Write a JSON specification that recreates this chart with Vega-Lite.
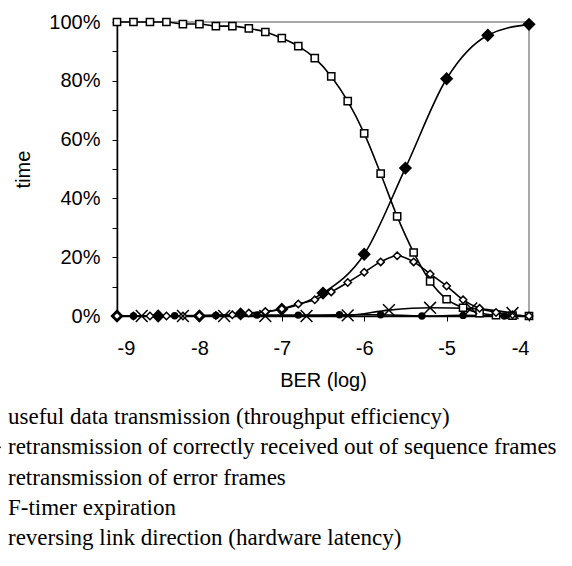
{
  "$schema": "https://vega.github.io/schema/vega-lite/v6.json",
  "width": 412,
  "height": 294,
  "autosize": {"type": "none"},
  "padding": {"left": 117, "top": 22, "right": 43, "bottom": 250},
  "background": "white",
  "config": {
    "view": {"stroke": "#8c8c8c", "strokeWidth": 1.5},
    "axis": {"labelFont": "Liberation Sans", "titleFont": "Liberation Sans", "labelColor": "black", "titleColor": "black", "titleFontWeight": "normal", "domainColor": "black", "tickColor": "black", "grid": false},
    "legend": {"orient": "none", "legendX": -133, "legendY": 383.5, "direction": "vertical", "title": null, "labelFont": "Liberation Serif", "labelFontSize": 23, "labelColor": "black", "rowPadding": 6.3, "labelOffset": 1, "labelLimit": 0, "symbolStrokeColor": "black", "symbolStrokeWidth": 1.5}
  },
  "data": {"values": [
    {"series": "useful data transmission (throughput efficiency)", "x": -9, "y": 100},
    {"series": "useful data transmission (throughput efficiency)", "x": -8.8, "y": 100},
    {"series": "useful data transmission (throughput efficiency)", "x": -8.6, "y": 100},
    {"series": "useful data transmission (throughput efficiency)", "x": -8.4, "y": 100},
    {"series": "useful data transmission (throughput efficiency)", "x": -8.2, "y": 99.3},
    {"series": "useful data transmission (throughput efficiency)", "x": -8.0, "y": 99.3},
    {"series": "useful data transmission (throughput efficiency)", "x": -7.8, "y": 98.6},
    {"series": "useful data transmission (throughput efficiency)", "x": -7.6, "y": 98.6},
    {"series": "useful data transmission (throughput efficiency)", "x": -7.4, "y": 97.8},
    {"series": "useful data transmission (throughput efficiency)", "x": -7.2, "y": 96.6},
    {"series": "useful data transmission (throughput efficiency)", "x": -7.0, "y": 94.5},
    {"series": "useful data transmission (throughput efficiency)", "x": -6.8, "y": 91.8},
    {"series": "useful data transmission (throughput efficiency)", "x": -6.6, "y": 87.7},
    {"series": "useful data transmission (throughput efficiency)", "x": -6.4, "y": 81.5},
    {"series": "useful data transmission (throughput efficiency)", "x": -6.2, "y": 73.1},
    {"series": "useful data transmission (throughput efficiency)", "x": -6.0, "y": 62.1},
    {"series": "useful data transmission (throughput efficiency)", "x": -5.8, "y": 48.4},
    {"series": "useful data transmission (throughput efficiency)", "x": -5.6, "y": 33.9},
    {"series": "useful data transmission (throughput efficiency)", "x": -5.4, "y": 21.6},
    {"series": "useful data transmission (throughput efficiency)", "x": -5.2, "y": 11.8},
    {"series": "useful data transmission (throughput efficiency)", "x": -5.0, "y": 5.7},
    {"series": "useful data transmission (throughput efficiency)", "x": -4.8, "y": 2.8},
    {"series": "useful data transmission (throughput efficiency)", "x": -4.6, "y": 1.0},
    {"series": "useful data transmission (throughput efficiency)", "x": -4.4, "y": 0.3},
    {"series": "useful data transmission (throughput efficiency)", "x": -4.2, "y": 0.1},
    {"series": "useful data transmission (throughput efficiency)", "x": -4.0, "y": 0},
    {"series": "retransmission of correctly received out of sequence frames", "x": -9, "y": 0},
    {"series": "retransmission of correctly received out of sequence frames", "x": -8.5, "y": 0},
    {"series": "retransmission of correctly received out of sequence frames", "x": -8, "y": 0},
    {"series": "retransmission of correctly received out of sequence frames", "x": -7.5, "y": 0.7},
    {"series": "retransmission of correctly received out of sequence frames", "x": -7, "y": 2.3},
    {"series": "retransmission of correctly received out of sequence frames", "x": -6.5, "y": 7.8},
    {"series": "retransmission of correctly received out of sequence frames", "x": -6, "y": 21},
    {"series": "retransmission of correctly received out of sequence frames", "x": -5.5, "y": 50.3},
    {"series": "retransmission of correctly received out of sequence frames", "x": -5, "y": 80.7},
    {"series": "retransmission of correctly received out of sequence frames", "x": -4.5, "y": 95.5},
    {"series": "retransmission of correctly received out of sequence frames", "x": -4, "y": 99.2},
    {"series": "retransmission of error frames", "x": -9, "y": 0},
    {"series": "retransmission of error frames", "x": -8.8, "y": 0},
    {"series": "retransmission of error frames", "x": -8.6, "y": 0},
    {"series": "retransmission of error frames", "x": -8.4, "y": 0},
    {"series": "retransmission of error frames", "x": -8.2, "y": 0},
    {"series": "retransmission of error frames", "x": -8.0, "y": 0.1},
    {"series": "retransmission of error frames", "x": -7.8, "y": 0.2},
    {"series": "retransmission of error frames", "x": -7.6, "y": 0.4},
    {"series": "retransmission of error frames", "x": -7.4, "y": 1.0},
    {"series": "retransmission of error frames", "x": -7.2, "y": 1.5},
    {"series": "retransmission of error frames", "x": -7.0, "y": 2.4},
    {"series": "retransmission of error frames", "x": -6.8, "y": 4.1},
    {"series": "retransmission of error frames", "x": -6.6, "y": 5.5},
    {"series": "retransmission of error frames", "x": -6.4, "y": 8.2},
    {"series": "retransmission of error frames", "x": -6.2, "y": 11.4},
    {"series": "retransmission of error frames", "x": -6.0, "y": 14.9},
    {"series": "retransmission of error frames", "x": -5.8, "y": 18.4},
    {"series": "retransmission of error frames", "x": -5.6, "y": 20.5},
    {"series": "retransmission of error frames", "x": -5.4, "y": 18.4},
    {"series": "retransmission of error frames", "x": -5.2, "y": 14.3},
    {"series": "retransmission of error frames", "x": -5.0, "y": 10.2},
    {"series": "retransmission of error frames", "x": -4.8, "y": 5.5},
    {"series": "retransmission of error frames", "x": -4.6, "y": 2.6},
    {"series": "retransmission of error frames", "x": -4.4, "y": 1.2},
    {"series": "retransmission of error frames", "x": -4.2, "y": 0.4},
    {"series": "retransmission of error frames", "x": -4.0, "y": 0},
    {"series": "F-timer expiration", "x": -8.7, "y": 0},
    {"series": "F-timer expiration", "x": -8.2, "y": 0},
    {"series": "F-timer expiration", "x": -7.7, "y": 0},
    {"series": "F-timer expiration", "x": -7.2, "y": 0},
    {"series": "F-timer expiration", "x": -6.7, "y": 0},
    {"series": "F-timer expiration", "x": -6.2, "y": 0.2},
    {"series": "F-timer expiration", "x": -5.7, "y": 2.0},
    {"series": "F-timer expiration", "x": -5.2, "y": 2.8},
    {"series": "F-timer expiration", "x": -4.7, "y": 2.6},
    {"series": "F-timer expiration", "x": -4.2, "y": 1.0},
    {"series": "reversing link direction (hardware latency)", "x": -8.8, "y": 0},
    {"series": "reversing link direction (hardware latency)", "x": -8.3, "y": 0.1},
    {"series": "reversing link direction (hardware latency)", "x": -7.8, "y": 0.2},
    {"series": "reversing link direction (hardware latency)", "x": -7.3, "y": 0.3},
    {"series": "reversing link direction (hardware latency)", "x": -6.8, "y": 0.3},
    {"series": "reversing link direction (hardware latency)", "x": -6.3, "y": 0.4},
    {"series": "reversing link direction (hardware latency)", "x": -5.8, "y": 0.4},
    {"series": "reversing link direction (hardware latency)", "x": -5.3, "y": 0},
    {"series": "reversing link direction (hardware latency)", "x": -4.8, "y": 0.2},
    {"series": "reversing link direction (hardware latency)", "x": -4.3, "y": 0}
  ]},
  "encoding": {
    "x": {"field": "x", "type": "quantitative", "scale": {"domain": [-9, -4], "nice": false, "zero": false},
      "axis": {"title": "BER (log)", "values": [-9, -8, -7, -6, -5, -4], "labelExpr": "'' + datum.value", "labelFontSize": 20, "titleFontSize": 20, "tickSize": 5, "labelPadding": 17, "titlePadding": 12, "domainWidth": 1.5}},
    "y": {"field": "y", "type": "quantitative", "scale": {"domain": [0, 100], "nice": false},
      "axis": {"title": "time", "values": [0, 10, 20, 30, 40, 50, 60, 70, 80, 90, 100], "labelExpr": "datum.value % 20 == 0 ? datum.value + '%' : ''", "labelFontSize": 20, "titleFontSize": 20, "tickSize": 5, "labelPadding": 12, "titlePadding": 15, "domainWidth": 1.5}}
  },
  "layer": [
    {
      "mark": {"type": "line", "interpolate": "monotone", "stroke": "black", "strokeWidth": 1.6},
      "encoding": {"detail": {"field": "series", "type": "nominal"}}
    },
    {
      "mark": {"type": "point", "filled": true, "stroke": "black", "strokeWidth": 1.5, "opacity": 1},
      "encoding": {
        "shape": {"field": "series", "type": "nominal",
          "scale": {"domain": ["useful data transmission (throughput efficiency)", "retransmission of correctly received out of sequence frames", "retransmission of error frames", "F-timer expiration", "reversing link direction (hardware latency)"],
            "range": ["square", "diamond", "diamond", "M-1,-1L1,1M-1,1L1,-1", "circle"]}},
        "fill": {"field": "series", "type": "nominal",
          "scale": {"domain": ["useful data transmission (throughput efficiency)", "retransmission of correctly received out of sequence frames", "retransmission of error frames", "F-timer expiration", "reversing link direction (hardware latency)"],
            "range": ["white", "black", "white", "transparent", "black"]}},
        "size": {"field": "series", "type": "nominal",
          "scale": {"type": "ordinal", "domain": ["useful data transmission (throughput efficiency)", "retransmission of correctly received out of sequence frames", "retransmission of error frames", "F-timer expiration", "reversing link direction (hardware latency)"],
            "range": [52, 125, 55, 140, 35]}}
      }
    }
  ]
}
